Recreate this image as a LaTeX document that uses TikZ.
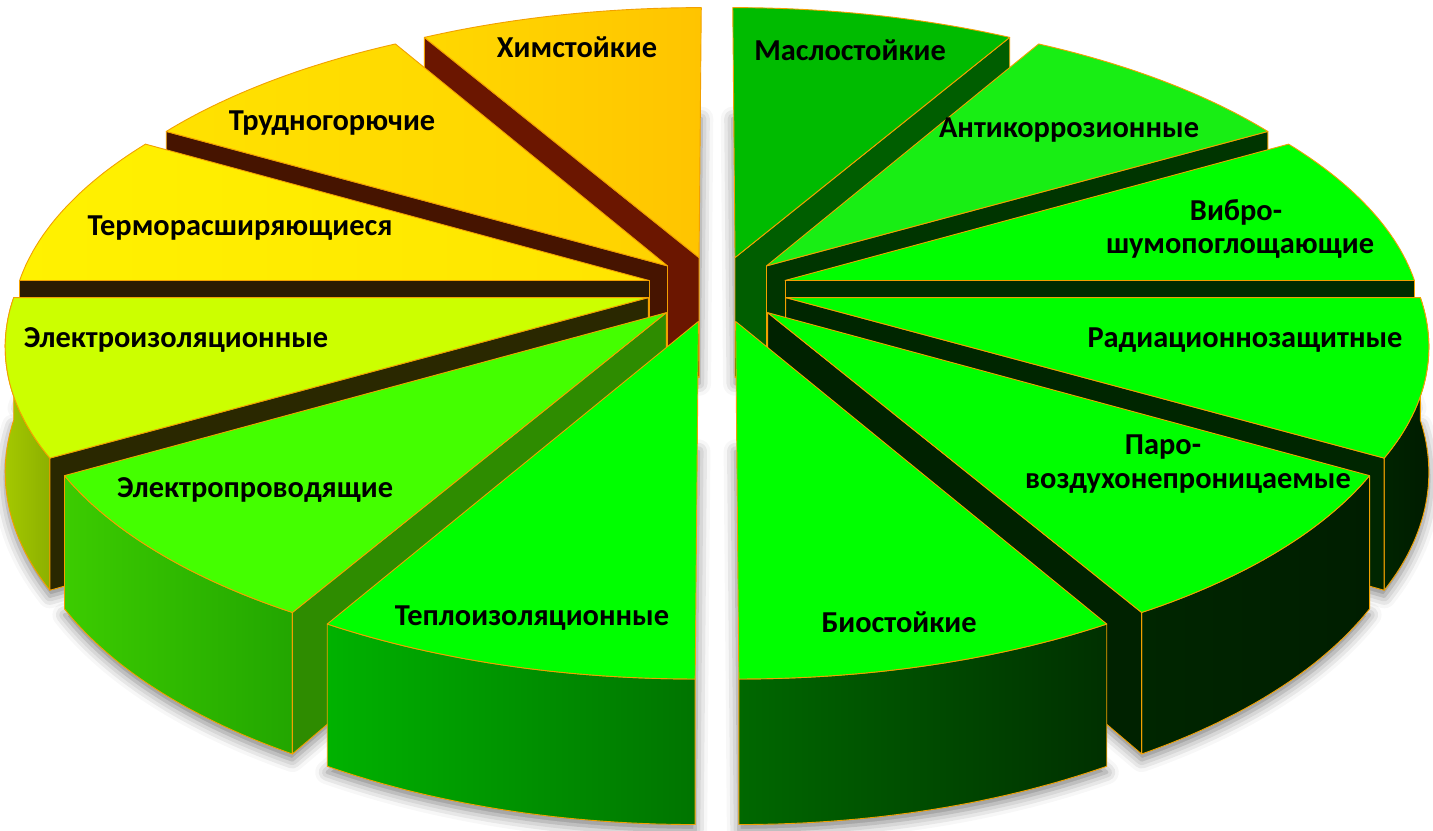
\documentclass[tikz,border=0pt]{standalone}
\usepackage{fontspec}
\setmainfont{Carlito}
\usetikzlibrary{shadows.blur}
\definecolor{edgeor}{HTML}{F2A000}
\newcommand\slSet[2]{\edef\slA{#1}\edef\slB{#2}%
  \pgfmathsetmacro\slX{0.112*cos((#1+#2)/2)}%
  \pgfmathsetmacro\slY{0.112*sin((#1+#2)/2)}}
\def\HH{-122}
\newcommand\slTop[1]{\path[#1] ({qx(\slX,\slY)},{qy(\slY,0)}) -- plot[domain=\slA:\slB,samples=31]({qx(\slX+cos(\x),\slY+sin(\x))},{qy(\slY+sin(\x),0)}) -- cycle;}
\newcommand\slRad[2]{\path[#2] ({qx(\slX,\slY)},{qy(\slY,0)}) -- ({qx(\slX+cos(#1),\slY+sin(#1))},{qy(\slY+sin(#1),0)}) -- ({qx(\slX+cos(#1),\slY+sin(#1))},{qy(\slY+sin(#1),\HH)}) -- ({qx(\slX,\slY)},{qy(\slY,\HH)}) -- cycle;}
\newcommand\slOut[3]{\path[#3] plot[domain=#1:#2,samples=31]({qx(\slX+cos(\x),\slY+sin(\x))},{qy(\slY+sin(\x),0)}) -- plot[domain=#2:#1,samples=31]({qx(\slX+cos(\x),\slY+sin(\x))},{qy(\slY+sin(\x),\HH)}) -- cycle;}
\newcommand\slShadow{\path[gshadow] ({qx(\slX,\slY)},{qy(\slY,\HH)}) -- plot[domain=\slA:\slB,samples=31]({qx(\slX+cos(\x),\slY+sin(\x))},{qy(\slY+sin(\x),\HH)}) -- cycle;}
\begin{document}
\begin{tikzpicture}[x=0.5pt,y=0.5pt,
  declare function={ww(\Y)=1+0.146*\Y; qx(\X,\Y)=717+632*\X/ww(\Y); qy(\Y,\Z)=541+(295*\Y+\Z)/ww(\Y);},
  edge/.style={draw=edgeor,line width=0.45pt,line join=round},
  lab/.style={font=\fontsize{15.2}{18}\selectfont\bfseries,text=black,inner sep=0pt},
  gshadow/.style={blur shadow={shadow xshift=0pt,shadow yshift=-3pt,shadow blur radius=6pt,shadow opacity=50}}
]
\useasboundingbox (0,0) rectangle (1433,830);
% ground shadows
\foreach \a/\b in {90/120,120/150,150/180,180/210,210/240,240/270,60/90,30/60,0/30,-30/0,-60/-30,-90/-60}{
  \slSet{\a}{\b}\slShadow}
% ---------- left half ----------
\slSet{90}{120}
\slRad{120}{fill={rgb,255:red,107;green,22;blue,0},edge}
\slTop{left color={rgb,255:red,255;green,216;blue,0},right color={rgb,255:red,255;green,196;blue,0},edge}
\slSet{120}{150}
\slRad{150}{fill={rgb,255:red,70;green,20;blue,0},edge}
\slTop{left color={rgb,255:red,255;green,226;blue,0},right color={rgb,255:red,255;green,210;blue,0},edge}
\slSet{150}{180}
\slRad{180}{fill={rgb,255:red,44;green,26;blue,2},edge}
\slTop{left color={rgb,255:red,255;green,242;blue,0},right color={rgb,255:red,255;green,228;blue,0},edge}
\slSet{180}{210}
\slOut{180}{210}{left color={rgb,255:red,164;green,200;blue,0},right color={rgb,255:red,140;green,176;blue,0},edge}
\slRad{210}{fill={rgb,255:red,42;green,40;blue,0},edge}
\slTop{fill={rgb,255:red,204;green,255;blue,0},edge}
\slSet{210}{240}
\slOut{210}{240}{left color={rgb,255:red,60;green,204;blue,0},right color={rgb,255:red,34;green,166;blue,0},edge}
\slRad{240}{fill={rgb,255:red,46;green,140;blue,0},edge}
\slTop{fill={rgb,255:red,68;green,255;blue,0},edge}
\slSet{240}{270}
\slOut{240}{270}{left color={rgb,255:red,0;green,178;blue,0},right color={rgb,255:red,0;green,116;blue,0},edge}
\slTop{fill={rgb,255:red,0;green,255;blue,0},edge}
% ---------- right half ----------
\slSet{60}{90}
\slRad{60}{fill={rgb,255:red,0;green,94;blue,0},edge}
\slTop{fill={rgb,255:red,0;green,187;blue,0},edge}
\slSet{30}{60}
\slRad{30}{fill={rgb,255:red,0;green,53;blue,0},edge}
\slTop{fill={rgb,255:red,24;green,238;blue,20},edge}
\slSet{0}{30}
\slRad{0}{fill={rgb,255:red,0;green,43;blue,0},edge}
\slTop{fill={rgb,255:red,0;green,255;blue,0},edge}
\slSet{-30}{0}
\slOut{-30}{0}{left color={rgb,255:red,0;green,36;blue,0},right color={rgb,255:red,0;green,28;blue,0},edge}
\slRad{-30}{fill={rgb,255:red,0;green,38;blue,0},edge}
\slTop{fill={rgb,255:red,0;green,255;blue,0},edge}
\slSet{-60}{-30}
\slOut{-60}{-30}{left color={rgb,255:red,0;green,38;blue,0},right color={rgb,255:red,0;green,30;blue,0},edge}
\slRad{-60}{fill={rgb,255:red,0;green,34;blue,0},edge}
\slTop{fill={rgb,255:red,0;green,255;blue,0},edge}
\slSet{-90}{-60}
\slOut{-90}{-60}{left color={rgb,255:red,0;green,104;blue,0},right color={rgb,255:red,0;green,48;blue,0},edge}
\slTop{fill={rgb,255:red,0;green,255;blue,0},edge}
% ---------- labels ----------
\node[lab] (l1) at (577,783) {Химстойкие};
\node[lab] (l2) at (332,707) {Трудногорючие};
\node[lab] (l3) at (240,602) {Терморасширяющиеся};
\node[lab] (l4) at (176,490) {Электроизоляционные};
\node[lab] (l5) at (255,340) {Электропроводящие};
\node[lab] (l6) at (532,212) {Теплоизоляционные};
\node[lab] (r1) at (850,780) {Маслостойкие};
\node[lab] (r2) at (1069,700) {Антикоррозионные};
\node[lab] (r3a) at (1236,618) {Вибро-};
\node[lab] (r3b) at (1240,582) {шумопоглощающие};
\node[lab] (r4) at (1245,490) {Радиационнозащитные};
\node[lab] (r5a) at (1163,383) {Паро-};
\node[lab] (r5b) at (1188,347) {воздухонепроницаемые};
\node[lab] (r6) at (899,208) {Биостойкие};
\end{tikzpicture}
\end{document}
